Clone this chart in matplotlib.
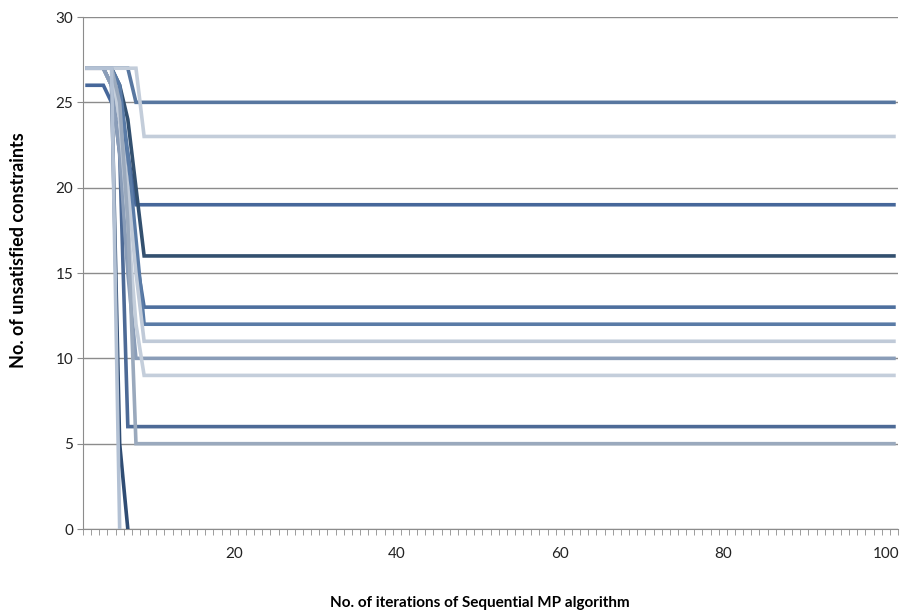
import matplotlib.pyplot as plt
from matplotlib.transforms import ScaledTranslation

plt.rcParams['font.family'] = ['Lato', 'DejaVu Sans']

n_iter = 100

# first iterations of each run; the run then stays at its last value
runs = {
    'run_a': [27, 27, 27, 27, 27, 27, 25],
    'run_b': [27, 27, 27, 27, 27, 27, 27, 23],
    'run_c': [26, 26, 26, 25, 24, 22, 19],
    'run_d': [27, 27, 27, 27, 26, 24, 20, 16],
    'run_e': [27, 27, 27, 27, 25, 20, 16, 13],
    'run_f': [27, 27, 27, 27, 26, 22, 17, 12],
    'run_g': [27, 27, 27, 26, 24, 20, 15, 11],
    'run_h': [27, 27, 27, 26, 22, 15, 10],
    'run_i': [27, 27, 27, 27, 24, 18, 12, 9],
    'run_j': [27, 27, 27, 26, 22, 6],
    'run_k': [27, 27, 27, 27, 25, 18, 5],
}
# runs that reached zero stop there
solved = {
    'run_l': [27, 27, 27, 27, 0],
    'run_m': [27, 27, 27, 26, 5, 0],
}
colors = {
    'run_a': '#5877a0', 'run_b': '#c3cdda', 'run_c': '#46679a',
    'run_d': '#33506f', 'run_e': '#4d6f9e', 'run_f': '#5a7ba6',
    'run_g': '#c0cad8', 'run_h': '#8a9db8', 'run_i': '#c4cedb',
    'run_j': '#4d6a96', 'run_k': '#9aa9bd', 'run_l': '#b3c1d4',
    'run_m': '#2f4c73',
}
# pale runs are drawn over the dark ones
pale = {'run_b', 'run_g', 'run_i', 'run_l', 'run_k', 'run_h'}

fig = plt.figure(figsize=(9.08, 6.16), dpi=100)
ax = fig.add_axes([0.0914, 0.1412, 0.8976, 0.8312])

for name, vals in runs.items():
    ys = vals + [vals[-1]] * (n_iter - len(vals))
    ax.plot(range(1, n_iter + 1), ys, color=colors[name], lw=2.6,
            solid_joinstyle='miter', zorder=4 if name in pale else 3)
for name, vals in solved.items():
    ax.plot(range(1, len(vals) + 1), vals, color=colors[name], lw=2.6,
            solid_joinstyle='miter', zorder=4 if name in pale else 3)

ax.set_xlim(0.5, n_iter + 0.5)
ax.set_ylim(0, 30)
ax.set_yticks(range(0, 31, 5))
ax.grid(axis='y', color='#8c8c8c', lw=1)
ax.set_axisbelow(True)

for side in ('top', 'right'):
    ax.spines[side].set_visible(False)
for side in ('left', 'bottom'):
    ax.spines[side].set_color('#8c8c8c')

ax.set_xticks(range(20, n_iter + 1, 20))
ax.set_xticks([k + 0.5 for k in range(0, n_iter + 1)], minor=True)
ax.tick_params(axis='x', which='major', length=0, pad=13, labelsize=11,
               labelcolor='#222222')
ax.tick_params(axis='x', which='minor', length=4, color='#8c8c8c')
ax.tick_params(axis='y', length=4, color='#8c8c8c', labelsize=11,
               labelcolor='#222222', pad=3)
shift = ScaledTranslation(-8 / 100, 0, fig.dpi_scale_trans)
for lbl in ax.get_xticklabels():
    lbl.set_transform(lbl.get_transform() + shift)

fig.text(0.528, 1 - 603 / 616, 'No. of iterations of Sequential MP algorithm',
         fontsize=11, fontweight='bold', ha='center', va='center')
fig.text(19 / 908, 1 - 250 / 616, 'No. of unsatisfied constraints',
         fontsize=13, fontweight='bold', ha='center', va='center',
         rotation=90)

fig.savefig('out.png', dpi=100)
